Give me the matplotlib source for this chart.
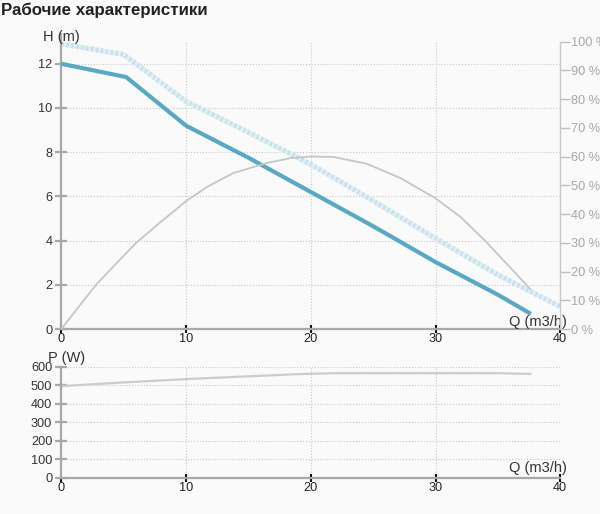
import matplotlib
matplotlib.use("Agg")
import matplotlib.pyplot as plt

plt.rcParams['font.family'] = ['Liberation Sans', 'DejaVu Sans']

# pump curve H(Q)
q_head = [0, 5.2, 10, 15, 20, 25, 30, 35, 37.5]
head = [12.0, 11.4, 9.2, 7.75, 6.2, 4.65, 3.03, 1.55, 0.73]
# faint dotted curve (max speed)
q_head_max = [0, 5, 10, 15, 20, 25, 30, 35, 40.8]
head_max = [12.9, 12.42, 10.3, 8.9, 7.45, 5.8, 4.1, 2.45, 0.78]
# efficiency, %
q_eff = [0, 2.8, 5, 6, 7.9, 10, 11.7, 13.8, 16.5, 18.4, 20, 21.8, 24.5, 27.2, 30, 32, 34, 37.6]
eff = [0, 15.5, 25.5, 30.0, 37.0, 44.5, 49.5, 54.3, 57.8, 59.5, 60, 59.9, 57.5, 52.5, 45.5, 39.0, 30.6, 13.9]
# power, W
q_pow = [0, 5, 10, 15, 19, 22, 35, 37.6]
power = [495, 515, 533, 548, 560, 565, 565, 561]

h_ticks = [0, 2, 4, 6, 8, 10, 12]
pct_ticks = [0, 10, 20, 30, 40, 50, 60, 70, 80, 90, 100]
p_ticks = [0, 100, 200, 300, 400, 500, 600]
q_ticks = [0, 10, 20, 30, 40]

bg = '#fafafa'
fig = plt.figure(figsize=(6, 5.14), dpi=100, facecolor=bg)

ax = fig.add_axes([61.3 / 600, 185 / 514, 499 / 600, 287.3 / 514], facecolor=bg)
ax2 = ax.twinx()
axp = fig.add_axes([61.3 / 600, 36.3 / 514, 499 / 600, 111 / 514], facecolor=bg)

fs = 9.2
lfs = 10.5
for a, yt in [(ax, h_ticks), (axp, p_ticks)]:
    a.set_xlim(0, 40)
    a.set_xticks(q_ticks)
    a.set_yticks(yt)
    for s in ['top', 'right']:
        a.spines[s].set_visible(False)
    a.spines['left'].set_color('#a8a8a8')
    a.spines['left'].set_linewidth(1.6)
    a.spines['bottom'].set_color('#a8a8a8')
    a.spines['bottom'].set_linewidth(1.6)
    a.tick_params(axis='y', direction='inout', length=9, width=1.6, color='#a8a8a8',
                  labelsize=fs, labelcolor='#333333', pad=2)
    a.tick_params(axis='x', direction='inout', length=6, width=1.5, color='#111111',
                  labelsize=fs, labelcolor='#222222', pad=0)
    a.grid(True, color='#c8c8c8', linestyle=':', linewidth=0.8)
    a.set_axisbelow(True)

ax.set_ylim(0, 13)
axp.set_ylim(0, 600)

# left spine of the head chart runs a little above the plot
ax.plot([0, 0], [1, 1.03], transform=ax.transAxes, color='#a8a8a8', linewidth=1.6,
        clip_on=False, solid_capstyle='butt')

ax2.set_ylim(0, 100)
ax2.set_yticks(pct_ticks)
ax2.set_yticklabels([f'{t} %' for t in pct_ticks])
for s in ['top', 'left', 'bottom']:
    ax2.spines[s].set_visible(False)
ax2.spines['right'].set_color('#c8c8c8')
ax2.spines['right'].set_linewidth(1.0)
ax2.tick_params(axis='y', direction='out', length=7, width=1.0, color='#c0c0c0',
                labelsize=fs, labelcolor='#a8a8a8', pad=1)

ax.plot(q_head_max, head_max, color='#e2f0f6', linewidth=3.6, zorder=2)
ax.plot(q_head_max, head_max, color='#c8e2ec', linewidth=3.6, linestyle=(0, (0.5, 0.5)),
        solid_capstyle='butt', zorder=2)
ax.plot(q_head, head, color='#5aa9c4', linewidth=3.0, zorder=3)
ax2.plot(q_eff, eff, color='#c6c6c6', linewidth=1.3, zorder=2)
axp.plot(q_pow, power, color='#cccccc', linewidth=1.6)

ax.text(0, 13.2, 'H (m)', ha='center', va='center', fontsize=lfs, color='#333333', clip_on=False)
ax.text(40.5, 0.3, 'Q (m3/h)', ha='right', va='center', fontsize=lfs, color='#333333', clip_on=False)
axp.text(0.4, 647, 'P (W)', ha='center', va='center', fontsize=lfs, color='#333333', clip_on=False)
axp.text(40.5, 52, 'Q (m3/h)', ha='right', va='center', fontsize=lfs, color='#333333', clip_on=False)

fig.text(0.002, 1 - 10 / 514, 'Рабочие характеристики', ha='left', va='center',
         fontsize=12.2, fontweight='bold', color='#222222')

fig.savefig('out.png', dpi=100, facecolor=bg)
